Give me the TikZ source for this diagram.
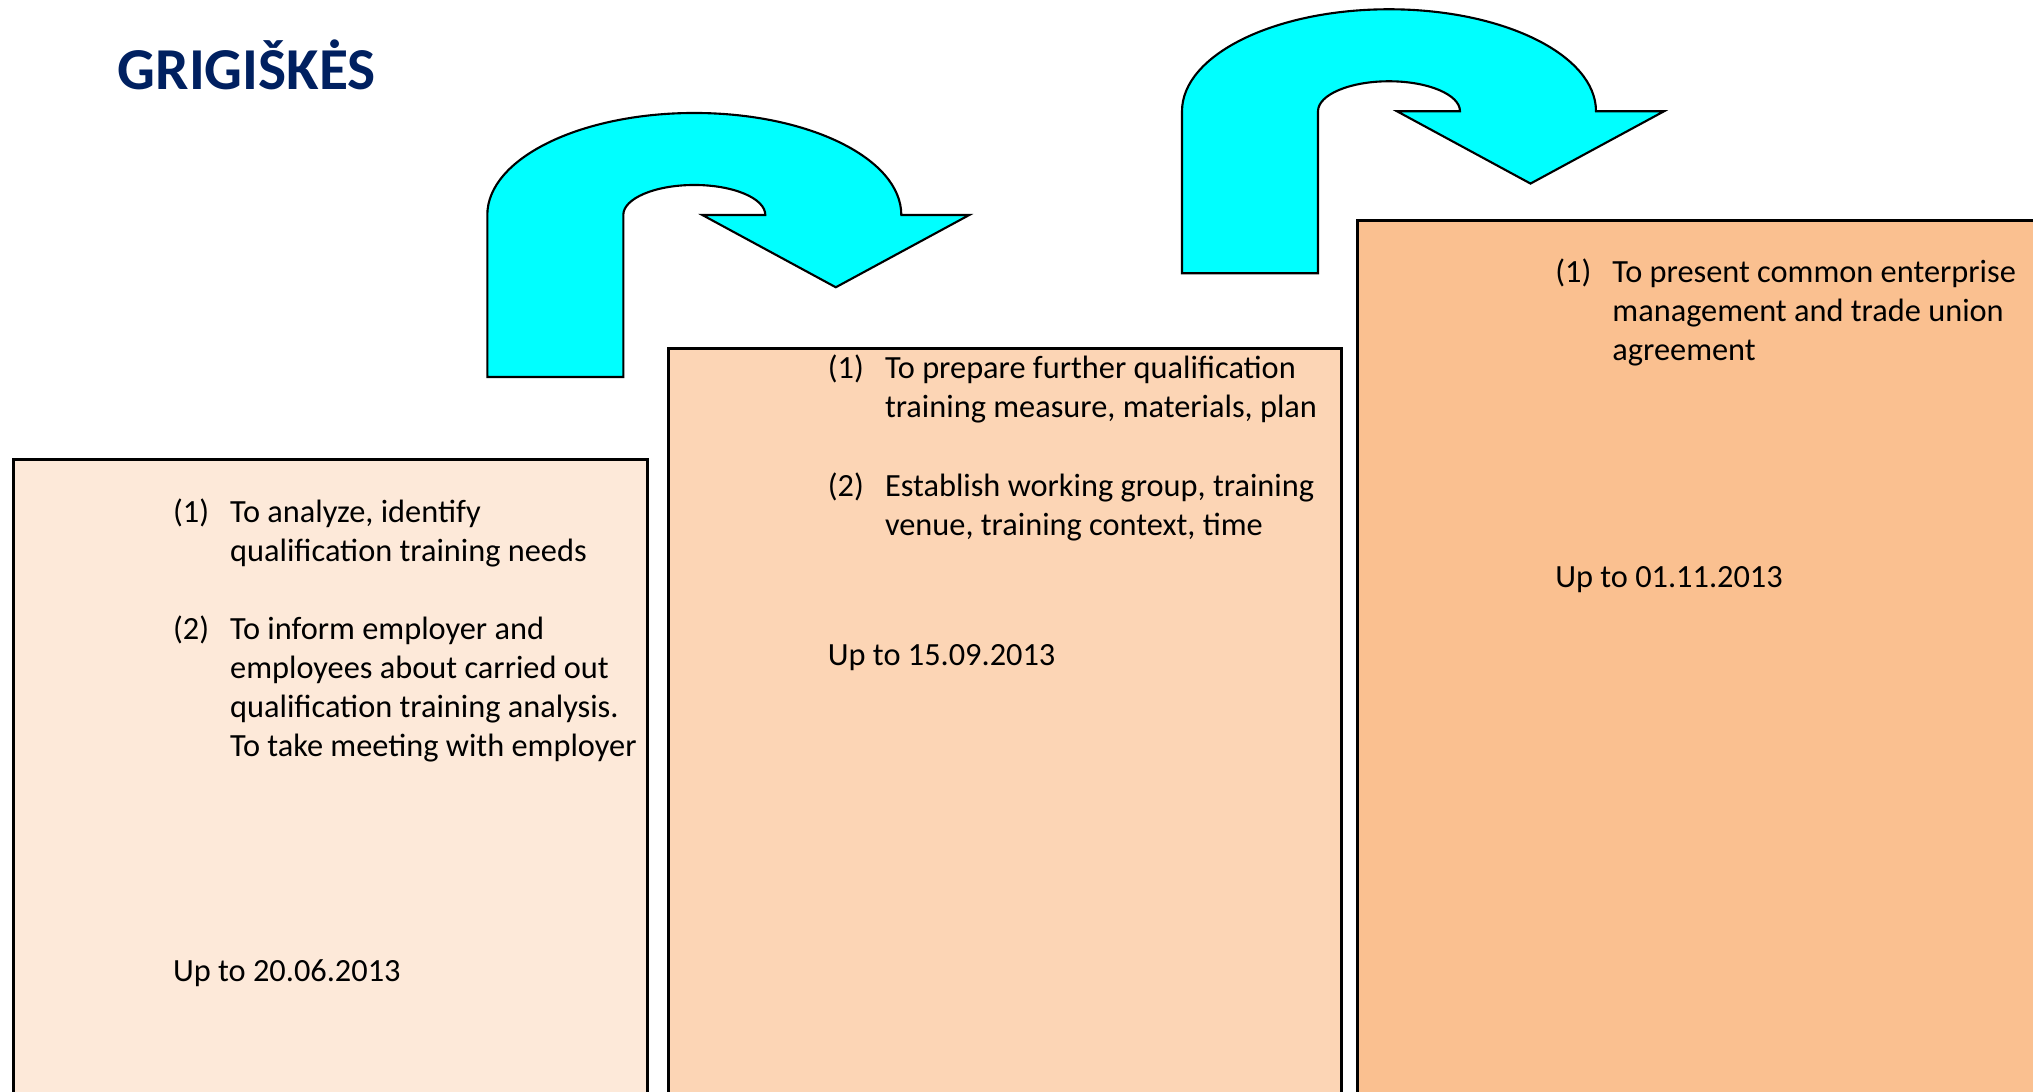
\documentclass[tikz,border=0pt]{standalone}
\usepackage{fontspec}
\setmainfont{Carlito}
\usepackage{tikz}
\usetikzlibrary{arrows}
\definecolor{titleblue}{RGB}{0,32,96}
\definecolor{aqua}{RGB}{0,255,255}
\definecolor{peachA}{RGB}{253,233,217}
\definecolor{peachB}{RGB}{252,213,181}
\definecolor{peachC}{RGB}{250,192,144}
\tikzstyle{stage} = [draw, line width=0.85pt, anchor=north west, inner sep=0pt, minimum height=12cm]
\tikzstyle{txt} = [anchor=base west, inner sep=0pt, align=left, font=\fontsize{9.2}{11.07}\selectfont]
\tikzstyle{turn} = [draw, fill=aqua, line width=0.6pt, line join=miter]

\begin{document}
\begin{tikzpicture}[x=0.01cm, y=0.01cm]
\useasboundingbox (0,0) rectangle (2033,1092);
\clip (0,0) rectangle (2033,1092);

\node[anchor=base west, inner sep=0pt, text=titleblue, font=\fontsize{16.9}{20}\selectfont\bfseries] (title) at (117,1002) {GRIGIŠKĖS};

\foreach \x/\y in {487.3/715, 1182/818.7} {
\draw[turn] (\x,\y) -- ++(136,0) -- ++(0,162)
arc[start angle=180, end angle=0, x radius=71, y radius=30]
-- ++(-63,0) -- ++(133.5,-72.3) -- ++(133.5,72.3) -- ++(-68,0)
arc[start angle=0, end angle=180, x radius=207, y radius=102]
-- cycle;
}

\node[stage, fill=peachA, minimum width=6.334cm] (box1) at (12.3,633.7) {};
\node[stage, fill=peachB, minimum width=6.724cm] (box2) at (667,745.3) {};
\node[stage, fill=peachC, minimum width=6.9cm] (box3) at (1356.3,873) {};

\node[txt] (n11) at (172.4,569.5) {(1)};
\node[txt] (t11) at (229.5,530.45) {To analyze, identify\\qualification training needs};
\node[txt] (n12) at (172.4,452.8) {(2)};
\node[txt] (t12) at (229.5,335.65) {To inform employer and\\employees about carried out\\qualification training analysis.\\To take meeting with employer};
\node[txt] (d1) at (172.4,110.5) {Up to 20.06.2013};

\node[txt] (n21) at (827.2,713.4) {(1)};
\node[txt] (t21) at (884.3,674.35) {To prepare further qualification\\training measure, materials, plan};
\node[txt] (n22) at (827.2,595.4) {(2)};
\node[txt] (t22) at (884.3,556.35) {Establish working group, training\\venue, training context, time};
\node[txt] (d2) at (827.2,426.8) {Up to 15.09.2013};

\node[txt] (n31) at (1554.6,809.3) {(1)};
\node[txt] (t31) at (1611.7,731.2) {To present common enterprise\\management and trade union\\agreement};
\node[txt] (d3) at (1554.6,504.6) {Up to 01.11.2013};
\end{tikzpicture}
\end{document}
